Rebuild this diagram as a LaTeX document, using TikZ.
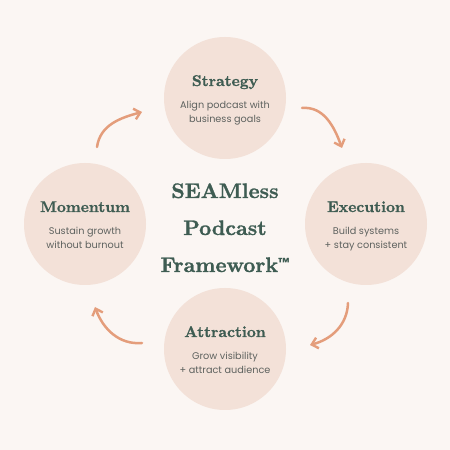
\documentclass[tikz,border=0pt]{standalone}
\usepackage{fontspec}
\usetikzlibrary{arrows.meta}
\newfontfamily\subfont{Poppins}
\newfontfamily\headfont[FakeBold=1.2]{lmroman10-bold.otf}
\definecolor{bgc}{HTML}{FBF6F3}
\definecolor{circc}{HTML}{F3E1D8}
\definecolor{greenc}{HTML}{3E5C52}
\definecolor{grayc}{HTML}{5E625F}
\definecolor{arrowc}{HTML}{E49D7B}
\begin{document}
\begin{tikzpicture}[x=1pt,y=1pt,
  stage/.style={circle,fill=circc,minimum size=122pt,inner sep=0pt},
  ttl/.style={anchor=base,text=greenc,font=\headfont\fontsize{15.5}{18}\selectfont},
  sub/.style={anchor=base,text=grayc,font=\subfont\fontsize{9.7}{11}\selectfont},
  big/.style={anchor=base,text=greenc,font=\headfont\fontsize{21}{25}\selectfont},
  cyc/.style={draw=arrowc,line width=2.5pt,line cap=round,-{Straight Barb[length=6pt,width=11pt,line width=2.4pt]}}]
\fill[bgc] (0,0) rectangle (450,450);
\useasboundingbox (0,0) rectangle (450,450);
% circles
\node[stage] (strat) at (225,352) {};
\node[stage] (exec) at (366,226) {};
\node[stage] (mom) at (85,226) {};
\node[stage] (attr) at (225,101) {};
% titles
\node[ttl] (stratT) at (225,364) {Strategy};
\node[sub] (stratA) at (225,341) {Align podcast with};
\node[sub] (stratB) at (225,327) {business goals};
\node[ttl] (execT) at (366,238) {Execution};
\node[sub] (execA) at (366,215) {Build systems};
\node[sub] (execB) at (366,201) {+ stay consistent};
\node[ttl] (momT) at (85,238) {Momentum};
\node[sub] (momA) at (85,215) {Sustain growth};
\node[sub] (momB) at (85,201) {without burnout};
\node[ttl] (attrT) at (225,113) {Attraction};
\node[sub] (attrA) at (225,90) {Grow visibility};
\node[sub] (attrB) at (225,76) {+ attract audience};
% center
\node[big] (c1) at (225,252) {SEAMless};
\node[big] (c2) at (225,215) {Podcast};
\node[big] (c3) at (225,178) {Framework\raisebox{0.5ex}{\subfont\bfseries\fontsize{13}{13}\selectfont ™}};
% arrows
\coordinate (tr1) at (302,342);
\coordinate (tr2) at (342,302);
\coordinate (br1) at (348,147);
\coordinate (br2) at (310,105);
\coordinate (bl1) at (142,107);
\coordinate (bl2) at (95,143);
\coordinate (tl1) at (97,303);
\coordinate (tl2) at (142,338);
\draw[cyc] (tr1) to[out=5,in=110] (tr2);
\draw[cyc] (br1) to[out=-92,in=15] (br2);
\draw[cyc] (bl1) to[out=185,in=-70] (bl2);
\draw[cyc] (tl1) to[out=82,in=195] (tl2);
\end{tikzpicture}
\end{document}
